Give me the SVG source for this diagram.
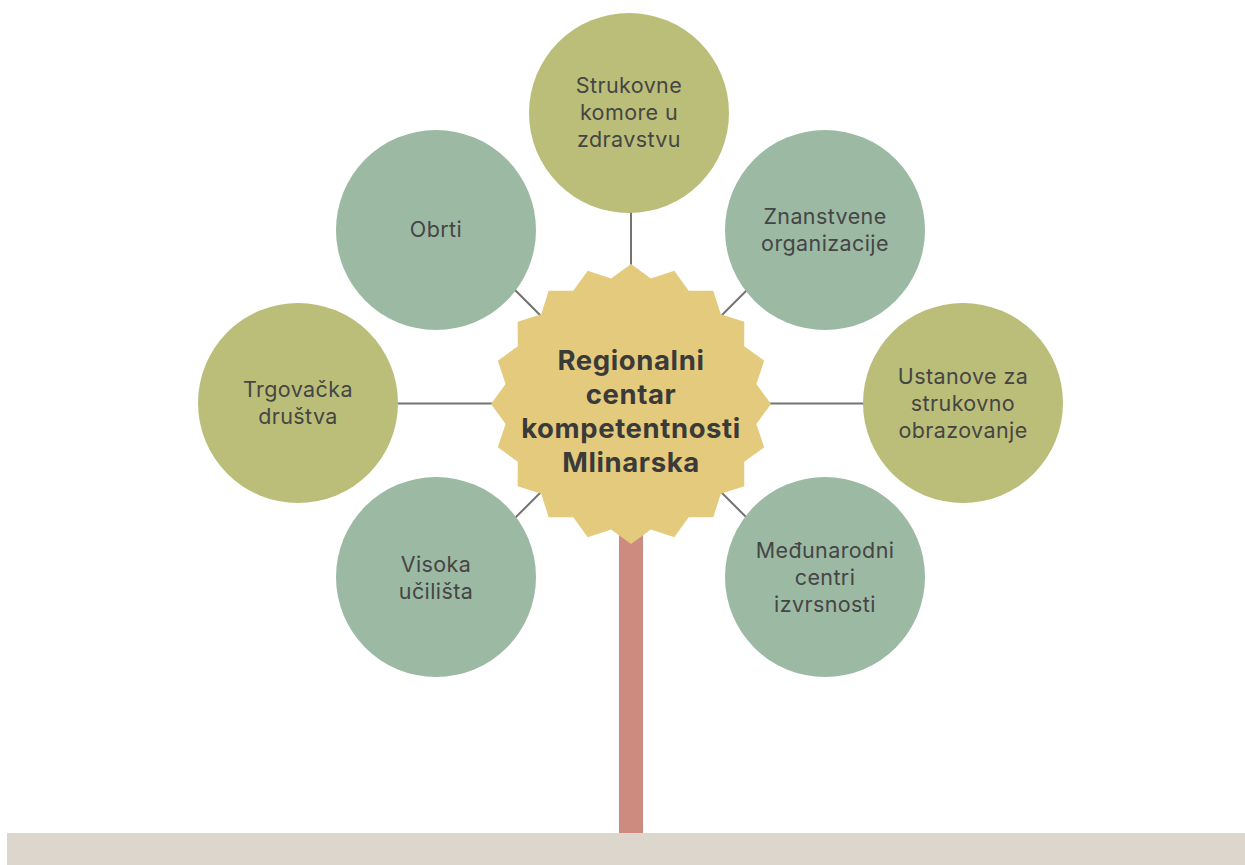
<svg xmlns="http://www.w3.org/2000/svg" width="1245" height="865" viewBox="0 0 1245 865">
  <style>
    .sage { fill: #9cb9a4; }
    .olive { fill: #bbbe78; }
    .lbl { font-family: Inter, "Open Sans", sans-serif; font-size: 21.5px; letter-spacing: 0.4px; fill: #454545; text-anchor: middle; }
    .title { font-family: Inter, "Open Sans", sans-serif; font-size: 27.5px; letter-spacing: 0.6px; font-weight: bold; fill: #3a3a3a; text-anchor: middle; }
    .conn { stroke: #737373; stroke-width: 2; fill: none; }
  </style>
  <rect x="0" y="0" width="1245" height="865" fill="#ffffff"/>
  <rect id="ground" x="7" y="833" width="1238" height="32" fill="#ddd6cd"/>
  <rect id="stem" x="619" y="520" width="24" height="313" fill="#cd8b7f"/>

  <g id="connectors">
    <line class="conn" x1="631" y1="180" x2="631" y2="300"/>
    <line class="conn" x1="757" y1="280" x2="712" y2="325"/>
    <line class="conn" x1="740" y1="403.5" x2="910" y2="403.5"/>
    <line class="conn" x1="757" y1="528" x2="712" y2="483"/>
    <line class="conn" x1="505" y1="528" x2="550" y2="483"/>
    <line class="conn" x1="350" y1="403.5" x2="520" y2="403.5"/>
    <line class="conn" x1="505" y1="280" x2="550" y2="325"/>
  </g>

  <g id="center">
    <polygon fill="#e4ca7d" points="631,264 650.9,278.6 674.3,270.8 688.7,290.8 713.3,290.7 720.8,314.2 744.3,321.7 744.2,346.3 764.2,360.7 756.4,384.1 771,404 756.4,423.9 764.2,447.3 744.2,461.7 744.3,486.3 720.8,493.8 713.3,517.3 688.7,517.2 674.3,537.2 650.9,529.4 631,544 611.1,529.4 587.7,537.2 573.3,517.2 548.7,517.3 541.2,493.8 517.7,486.3 517.8,461.7 497.8,447.3 505.6,423.9 491,404 505.6,384.1 497.8,360.7 517.8,346.3 517.7,321.7 541.2,314.2 548.7,290.7 573.3,290.8 587.7,270.8 611.1,278.6"/>
    <text class="title" x="631" y="370">Regionalni</text>
    <text class="title" x="631" y="404">centar</text>
    <text class="title" x="631" y="438">kompetentnosti</text>
    <text class="title" x="631" y="472">Mlinarska</text>
  </g>

  <g id="node-strukovne-komore">
    <circle class="olive" cx="629" cy="113" r="100"/>
    <text class="lbl" x="629" y="93">Strukovne</text>
    <text class="lbl" x="629" y="120">komore u</text>
    <text class="lbl" x="629" y="147">zdravstvu</text>
  </g>

  <g id="node-znanstvene">
    <circle class="sage" cx="825" cy="230" r="100"/>
    <text class="lbl" x="825" y="224">Znanstvene</text>
    <text class="lbl" x="825" y="251">organizacije</text>
  </g>

  <g id="node-ustanove">
    <circle class="olive" cx="963" cy="403" r="100"/>
    <text class="lbl" x="963" y="384">Ustanove za</text>
    <text class="lbl" x="963" y="411">strukovno</text>
    <text class="lbl" x="963" y="438">obrazovanje</text>
  </g>

  <g id="node-medunarodni">
    <circle class="sage" cx="825" cy="577" r="100"/>
    <text class="lbl" x="825" y="558">Međunarodni</text>
    <text class="lbl" x="825" y="585">centri</text>
    <text class="lbl" x="825" y="612">izvrsnosti</text>
  </g>

  <g id="node-visoka">
    <circle class="sage" cx="436" cy="577" r="100"/>
    <text class="lbl" x="436" y="572">Visoka</text>
    <text class="lbl" x="436" y="599">učilišta</text>
  </g>

  <g id="node-trgovacka">
    <circle class="olive" cx="298" cy="403" r="100"/>
    <text class="lbl" x="298" y="397">Trgovačka</text>
    <text class="lbl" x="298" y="424">društva</text>
  </g>

  <g id="node-obrti">
    <circle class="sage" cx="436" cy="230" r="100"/>
    <text class="lbl" x="436" y="237">Obrti</text>
  </g>
</svg>
